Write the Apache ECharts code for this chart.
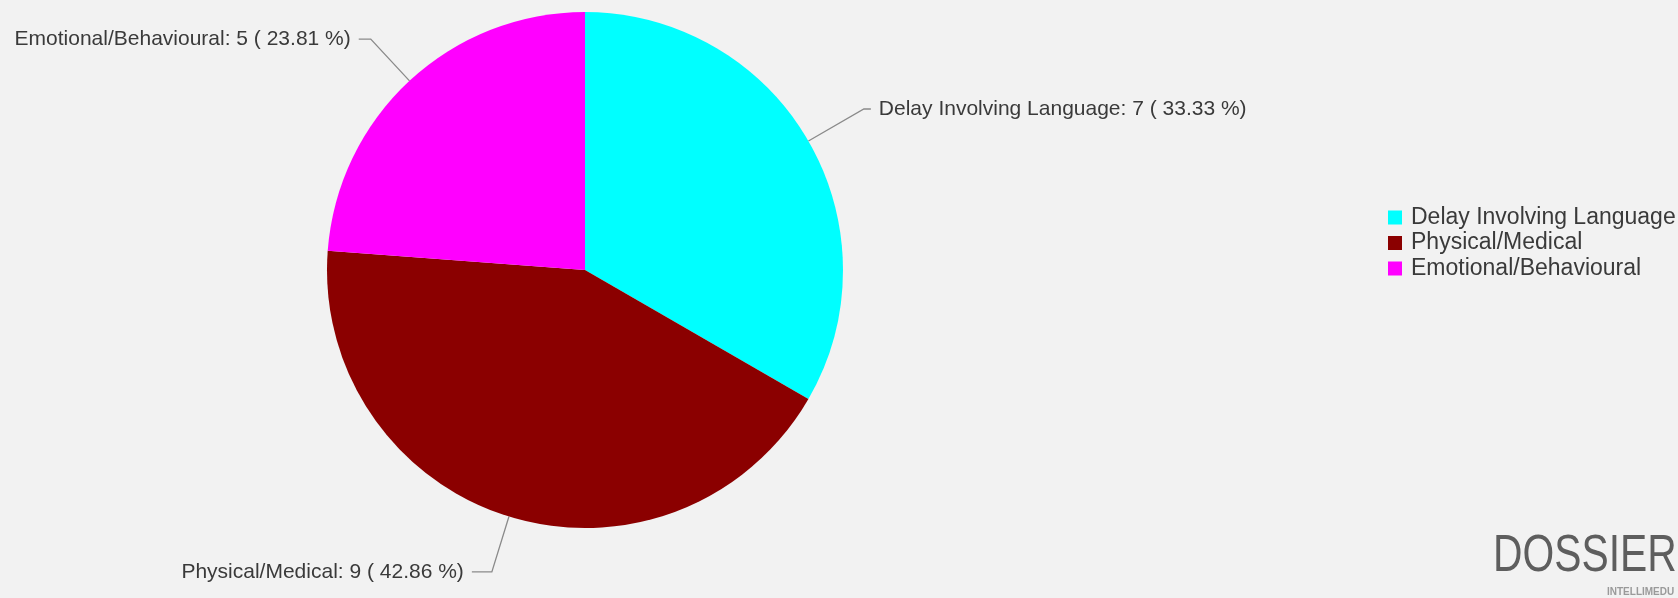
<!DOCTYPE html>
<html>
<head>
<meta charset="utf-8">
<script src="https://cdn.jsdelivr.net/npm/echarts@6/dist/echarts.min.js"></script>
<style>
html,body{margin:0;padding:0;background:#f2f2f2;}
#chart{width:1678px;height:598px;}
</style>
</head>
<body>
<div id="chart"></div>
<script>
var categories = ['Delay Involving Language', 'Physical/Medical', 'Emotional/Behavioural'];
var values = [7, 9, 5];
var colors = ['#00ffff', '#8b0000', '#ff00ff'];
var lineLengths = [64, 58, 57];
var lineLengths2 = [7, 20, 12];

var total = values.reduce(function(a, b){ return a + b; }, 0);
var data = categories.map(function(c, i){
  return {
    name: c,
    value: values[i],
    itemStyle: {color: colors[i]},
    labelLine: {length: lineLengths[i], length2: lineLengths2[i]}
  };
});

var chart = echarts.init(document.getElementById('chart'));
chart.setOption({
  backgroundColor: '#f2f2f2',
  animation: false,
  legend: {
    orient: 'vertical',
    left: 1383,
    top: 201,
    itemWidth: 14,
    itemHeight: 14,
    itemGap: 2.5,
    icon: 'rect',
    data: categories,
    textStyle: {fontFamily: 'Liberation Sans', fontSize: 23, color: '#3a3a3a', padding: [0, 0, 0, 4]}
  },
  series: [{
    type: 'pie',
    center: [585, 270],
    radius: 258,
    startAngle: 90,
    clockwise: true,
    avoidLabelOverlap: false,
    data: data,
    label: {
      show: true,
      fontFamily: 'Liberation Sans',
      fontSize: 21,
      color: '#3a3a3a',
      distanceToLabelLine: 8,
      formatter: function(p){
        return p.name + ': ' + p.value + ' ( ' + (p.value / total * 100).toFixed(2) + ' %)';
      }
    },
    labelLine: {
      show: true,
      lineStyle: {color: '#8a8a8a', width: 1.3}
    },
    emphasis: {disabled: true}
  }],
  graphic: [
    {
      type: 'text',
      x: 1493,
      y: 557,
      scaleX: 0.8,
      style: {
        text: 'DOSSIER',
        fontFamily: 'Liberation Sans',
        fontSize: 51,
        textVerticalAlign: 'middle',
        fill: '#5e5e5e'
      }
    },
    {
      type: 'text',
      x: 1607,
      y: 592,
      style: {
        text: 'INTELLIMEDU',
        fontFamily: 'Liberation Sans',
        fontSize: 10,
        fontWeight: 'bold',
        textVerticalAlign: 'middle',
        fill: '#9a9a9a'
      }
    }
  ]
});
</script>
</body>
</html>
